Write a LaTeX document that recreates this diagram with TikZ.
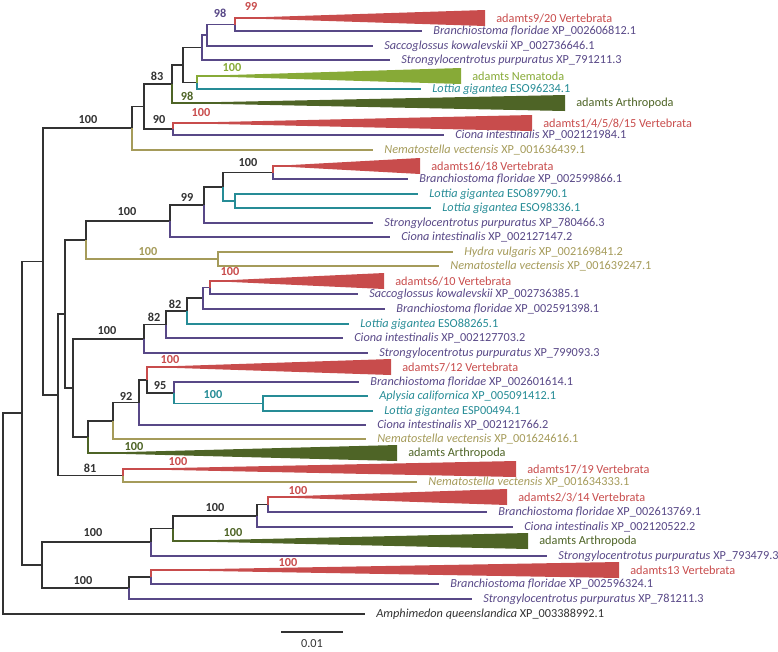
\documentclass[tikz,border=0pt]{standalone}
\usepackage{fontspec}
\setmainfont{Carlito}
\definecolor{vred}{RGB}{200,76,76}
\definecolor{pur}{RGB}{88,72,135}
\definecolor{tea}{RGB}{38,140,150}
\definecolor{olv}{RGB}{165,155,90}
\definecolor{ngr}{RGB}{135,170,55}
\definecolor{dgr}{RGB}{78,100,38}
\definecolor{blk}{RGB}{50,50,50}

\begin{document}
\begin{tikzpicture}[x=0.75pt,y=-0.75pt,br/.style={line width=1.2pt},k/.style={br,draw=blk},r/.style={br,draw=vred},p/.style={br,draw=pur},t/.style={br,draw=tea},o/.style={br,draw=olv},g/.style={br,draw=ngr},d/.style={br,draw=dgr},leaf/.style={anchor=west,inner sep=0pt,xshift=8.3pt,font=\fontsize{9.2}{10}\selectfont},boot/.style={inner sep=0pt,font=\fontsize{9.2}{10}\selectfont\bfseries}]
\useasboundingbox (0,0) rectangle (778,651);
\coordinate (root) at (3,513.5); \coordinate (r22) at (22,413); \coordinate (r43) at (43,261.5);
\coordinate (t1) at (132,128); \coordinate (t2) at (144,106.5); \coordinate (t3) at (173,129); \coordinate (t4) at (172,84); \coordinate (t5) at (183,65); \coordinate (t6) at (197,82.5); \coordinate (t7) at (202,47.5); \coordinate (t8) at (207,35); \coordinate (t9) at (235,24.5);
\coordinate (m58) at (58,395); \coordinate (m65) at (65,314); \coordinate (m73) at (73,388); \coordinate (d123) at (123,475.5);
\coordinate (a86) at (86,240); \coordinate (a170) at (170,221); \coordinate (a204) at (204,205); \coordinate (a223) at (223,187); \coordinate (a273) at (273,172.5); \coordinate (a235) at (235,201); \coordinate (a218) at (218,259);
\coordinate (b144) at (144,339); \coordinate (b166) at (166,324.5); \coordinate (b187) at (187,311); \coordinate (b203) at (203,298); \coordinate (b210) at (210,287.5);
\coordinate (c88) at (88,437); \coordinate (c113) at (113,421); \coordinate (c139) at (139,402.5); \coordinate (c147) at (147,380); \coordinate (c174) at (174,393); \coordinate (c263) at (263,403.5);
\coordinate (e42) at (42,565); \coordinate (e151) at (151,542); \coordinate (e173) at (173,528.5); \coordinate (e257) at (257,516); \coordinate (e268) at (268,504.5); \coordinate (f129) at (129,588); \coordinate (f151) at (151,577);

\coordinate (L1) at (485,18); \node[leaf,text=vred] (n1) at (L1) {adamts9/20 Vertebrata};
\coordinate (L2) at (422,31); \node[leaf,text=pur] (n2) at (L2) {\textit{Branchiostoma floridae} XP\_002606812.1};
\coordinate (L3) at (373,46); \node[leaf,text=pur] (n3) at (L3) {\textit{Saccoglossus kowalevskii} XP\_002736646.1};
\coordinate (L4) at (390,60); \node[leaf,text=pur] (n4) at (L4) {\textit{Strongylocentrotus purpuratus} XP\_791211.3};
\coordinate (L5) at (461,76); \node[leaf,text=ngr] (n5) at (L5) {adamts Nematoda};
\coordinate (L6) at (421,89); \node[leaf,text=tea] (n6) at (L6) {\textit{Lottia gigantea} ESO96234.1};
\coordinate (L7) at (565,103); \node[leaf,text=dgr] (n7) at (L7) {adamts Arthropoda};
\coordinate (L8) at (532,123); \node[leaf,text=vred] (n8) at (L8) {adamts1/4/5/8/15 Vertebrata};
\coordinate (L9) at (444,135); \node[leaf,text=pur] (n9) at (L9) {\textit{Ciona intestinalis} XP\_002121984.1};
\coordinate (L10) at (373,150); \node[leaf,text=olv] (n10) at (L10) {\textit{Nematostella vectensis} XP\_001636439.1};
\coordinate (L11) at (420,166); \node[leaf,text=vred] (n11) at (L11) {adamts16/18 Vertebrata};
\coordinate (L12) at (408,179); \node[leaf,text=pur] (n12) at (L12) {\textit{Branchiostoma floridae} XP\_002599866.1};
\coordinate (L13) at (418,194); \node[leaf,text=tea] (n13) at (L13) {\textit{Lottia gigantea} ESO89790.1};
\coordinate (L14) at (431,208); \node[leaf,text=tea] (n14) at (L14) {\textit{Lottia gigantea} ESO98336.1};
\coordinate (L15) at (373,223); \node[leaf,text=pur] (n15) at (L15) {\textit{Strongylocentrotus purpuratus} XP\_780466.3};
\coordinate (L16) at (390,237); \node[leaf,text=pur] (n16) at (L16) {\textit{Ciona intestinalis} XP\_002127147.2};
\coordinate (L17) at (453,252); \node[leaf,text=olv] (n17) at (L17) {\textit{Hydra vulgaris} XP\_002169841.2};
\coordinate (L18) at (439,266); \node[leaf,text=olv] (n18) at (L18) {\textit{Nematostella vectensis} XP\_001639247.1};
\coordinate (L19) at (384,281); \node[leaf,text=vred] (n19) at (L19) {adamts6/10 Vertebrata};
\coordinate (L20) at (358,294); \node[leaf,text=pur] (n20) at (L20) {\textit{Saccoglossus kowalevskii} XP\_002736385.1};
\coordinate (L21) at (385,309); \node[leaf,text=pur] (n21) at (L21) {\textit{Branchiostoma floridae} XP\_002591398.1};
\coordinate (L22) at (349,324); \node[leaf,text=tea] (n22) at (L22) {\textit{Lottia gigantea} ESO88265.1};
\coordinate (L23) at (343,338); \node[leaf,text=pur] (n23) at (L23) {\textit{Ciona intestinalis} XP\_002127703.2};
\coordinate (L24) at (368,353); \node[leaf,text=pur] (n24) at (L24) {\textit{Strongylocentrotus purpuratus} XP\_799093.3};
\coordinate (L25) at (391,367); \node[leaf,text=vred] (n25) at (L25) {adamts7/12 Vertebrata};
\coordinate (L26) at (359,382); \node[leaf,text=pur] (n26) at (L26) {\textit{Branchiostoma floridae} XP\_002601614.1};
\coordinate (L27) at (368,396); \node[leaf,text=tea] (n27) at (L27) {\textit{Aplysia californica} XP\_005091412.1};
\coordinate (L28) at (373,411); \node[leaf,text=tea] (n28) at (L28) {\textit{Lottia gigantea} ESP00494.1};
\coordinate (L29) at (366,425); \node[leaf,text=pur] (n29) at (L29) {\textit{Ciona intestinalis} XP\_002121766.2};
\coordinate (L30) at (366,439); \node[leaf,text=olv] (n30) at (L30) {\textit{Nematostella vectensis} XP\_001624616.1};
\coordinate (L31) at (397,453); \node[leaf,text=dgr] (n31) at (L31) {adamts Arthropoda};
\coordinate (L32) at (516,469); \node[leaf,text=vred] (n32) at (L32) {adamts17/19 Vertebrata};
\coordinate (L33) at (417,482); \node[leaf,text=olv] (n33) at (L33) {\textit{Nematostella vectensis} XP\_001634333.1};
\coordinate (L34) at (507,497); \node[leaf,text=vred] (n34) at (L34) {adamts2/3/14 Vertebrata};
\coordinate (L35) at (487,512); \node[leaf,text=pur] (n35) at (L35) {\textit{Branchiostoma floridae} XP\_002613769.1};
\coordinate (L36) at (513,527); \node[leaf,text=pur] (n36) at (L36) {\textit{Ciona intestinalis} XP\_002120522.2};
\coordinate (L37) at (528,541); \node[leaf,text=dgr] (n37) at (L37) {adamts Arthropoda};
\coordinate (L38) at (547,556); \node[leaf,text=pur] (n38) at (L38) {\textit{Strongylocentrotus purpuratus} XP\_793479.3};
\coordinate (L39) at (619,570); \node[leaf,text=vred] (n39) at (L39) {adamts13 Vertebrata};
\coordinate (L40) at (439,584); \node[leaf,text=pur] (n40) at (L40) {\textit{Branchiostoma floridae} XP\_002596324.1};
\coordinate (L41) at (472,599); \node[leaf,text=pur] (n41) at (L41) {\textit{Strongylocentrotus purpuratus} XP\_781211.3};
\coordinate (L42) at (365,614); \node[leaf,text=blk] (n42) at (L42) {\textit{Amphimedon queenslandica} XP\_003388992.1};

\draw[k] (root) |- (r22); \draw[k] (root) |- (L42); \draw[k] (r22) |- (r43); \draw[k] (r22) |- (e42);
\draw[k] (r43) |- (t1); \draw[k] (r43) |- (m58);
\draw[k] (t1) |- (t2); \draw[o] (t1) |- (L10); \draw[k] (t2) |- (t4); \draw[k] (t2) |- (t3);
\draw[r] (t3) |- (L8); \draw[p] (t3) |- (L9); \draw[k] (t4) |- (t5); \draw[d] (t4) |- (L7);
\draw[k] (t5) |- (t7); \draw[k] (t5) |- (t6); \draw[g] (t6) |- (L5); \draw[t] (t6) |- (L6);
\draw[p] (t7) |- (t8); \draw[p] (t7) |- (L4); \draw[p] (t8) |- (t9); \draw[p] (t8) |- (L3);
\draw[r] (t9) |- (L1); \draw[p] (t9) |- (L2);
\draw[k] (m58) |- (m65); \draw[k] (m58) |- (d123); \draw[r] (d123) |- (L32); \draw[o] (d123) |- (L33);
\draw[k] (m65) |- (a86); \draw[k] (m65) |- (m73);
\draw[k] (a86) |- (a170); \draw[o] (a86) |- (a218); \draw[o] (a218) |- (L17); \draw[o] (a218) |- (L18);
\draw[k] (a170) |- (a204); \draw[p] (a170) |- (L16); \draw[k] (a204) |- (a223); \draw[p] (a204) |- (L15);
\draw[k] (a223) |- (a273); \draw[t] (a223) |- (a235); \draw[r] (a273) |- (L11); \draw[p] (a273) |- (L12);
\draw[t] (a235) |- (L13); \draw[t] (a235) |- (L14);
\draw[k] (m73) |- (b144); \draw[k] (m73) |- (c88);
\draw[k] (b144) |- (b166); \draw[p] (b144) |- (L24); \draw[k] (b166) |- (b187); \draw[p] (b166) |- (L23);
\draw[k] (b187) |- (b203); \draw[t] (b187) |- (L22); \draw[p] (b203) |- (b210); \draw[p] (b203) |- (L21);
\draw[r] (b210) |- (L19); \draw[p] (b210) |- (L20);
\draw[k] (c88) |- (c113); \draw[d] (c88) |- (L31); \draw[k] (c113) |- (c139); \draw[o] (c113) |- (L30);
\draw[k] (c139) |- (c147); \draw[p] (c139) |- (L29); \draw[r] (c147) |- (L25); \draw[k] (c147) |- (c174);
\draw[p] (c174) |- (L26); \draw[t] (c174) |- (c263); \draw[t] (c263) |- (L27); \draw[t] (c263) |- (L28);
\draw[k] (e42) |- (e151); \draw[k] (e42) |- (f129);
\draw[k] (e151) |- (e173); \draw[p] (e151) |- (L38); \draw[k] (e173) |- (e257); \draw[d] (e173) |- (L37);
\draw[k] (e257) |- (e268); \draw[p] (e257) |- (L36); \draw[r] (e268) |- (L34); \draw[p] (e268) |- (L35);
\draw[k] (f129) |- (f151); \draw[p] (f129) |- (L41); \draw[r] (f151) |- (L39); \draw[p] (f151) |- (L40);

\fill[vred] (t9 |- L1) -- ([yshift=6pt]L1) -- ([yshift=-6pt]L1) -- cycle;
\fill[ngr] (t6 |- L5) -- ([yshift=6pt]L5) -- ([yshift=-6pt]L5) -- cycle;
\fill[dgr] (t4 |- L7) -- ([yshift=6pt]L7) -- ([yshift=-6pt]L7) -- cycle;
\fill[vred] (t3 |- L8) -- ([yshift=6pt]L8) -- ([yshift=-6pt]L8) -- cycle;
\fill[vred] (a273 |- L11) -- ([yshift=6pt]L11) -- ([yshift=-6pt]L11) -- cycle;
\fill[vred] (b210 |- L19) -- ([yshift=6pt]L19) -- ([yshift=-6pt]L19) -- cycle;
\fill[vred] (c147 |- L25) -- ([yshift=6pt]L25) -- ([yshift=-6pt]L25) -- cycle;
\fill[dgr] (c88 |- L31) -- ([yshift=6pt]L31) -- ([yshift=-6pt]L31) -- cycle;
\fill[vred] (d123 |- L32) -- ([yshift=6pt]L32) -- ([yshift=-6pt]L32) -- cycle;
\fill[vred] (e268 |- L34) -- ([yshift=6pt]L34) -- ([yshift=-6pt]L34) -- cycle;
\fill[dgr] (e173 |- L37) -- ([yshift=6pt]L37) -- ([yshift=-6pt]L37) -- cycle;
\fill[vred] (f151 |- L39) -- ([yshift=6pt]L39) -- ([yshift=-6pt]L39) -- cycle;

\node[boot,text=vred] (s1) at (251,6) {99}; \node[boot,text=pur] (s2) at (220,13) {98};
\node[boot,text=ngr] (s3) at (232,68) {100}; \node[boot,text=dgr] (s4) at (187,96) {98};
\node[boot,text=blk] (s5) at (157,76) {83}; \node[boot,text=blk] (s6) at (159,120) {90};
\node[boot,text=vred] (s7) at (201,113) {100}; \node[boot,text=blk] (s8) at (88,120) {100};
\node[boot,text=blk] (s9) at (248,163) {100}; \node[boot,text=blk] (s10) at (187,197) {99};
\node[boot,text=blk] (s11) at (127,212) {100}; \node[boot,text=olv] (s12) at (148,252) {100};
\node[boot,text=vred] (s13) at (230,272) {100}; \node[boot,text=blk] (s14) at (175,304) {82};
\node[boot,text=blk] (s15) at (154,317) {82}; \node[boot,text=blk] (s16) at (107,331) {100};
\node[boot,text=vred] (s17) at (170,360) {100}; \node[boot,text=blk] (s18) at (160,386) {95};
\node[boot,text=tea] (s19) at (213,395) {100}; \node[boot,text=blk] (s20) at (126,396) {92};
\node[boot,text=dgr] (s21) at (134,447) {100}; \node[boot,text=blk] (s22) at (90,468) {81};
\node[boot,text=vred] (s23) at (178,462) {100}; \node[boot,text=vred] (s24) at (298,491) {100};
\node[boot,text=blk] (s25) at (215,508) {100}; \node[boot,text=dgr] (s26) at (233,533) {100};
\node[boot,text=blk] (s27) at (93,533) {100}; \node[boot,text=vred] (s28) at (288,563) {100};
\node[boot,text=blk] (s29) at (83,581) {100};

\coordinate (sa) at (281,632); \coordinate (sb) at (343,632);
\draw[k] (sa) -- (sb);
\node[inner sep=0pt,font=\fontsize{9.2}{10}\selectfont,text=blk] (sc) at (312,644) {0.01};
\end{tikzpicture}
\end{document}
